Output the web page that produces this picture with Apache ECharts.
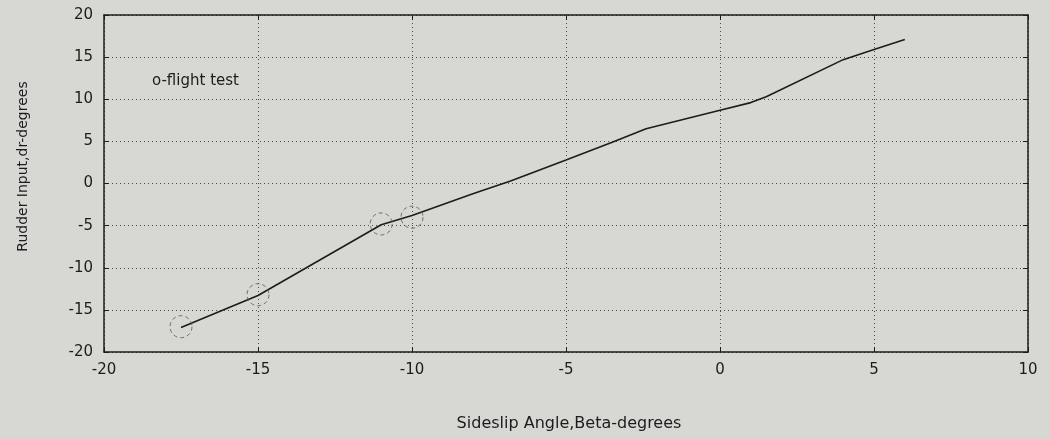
<!DOCTYPE html>
<html>
<head>
<meta charset="utf-8">
<title>Rudder Input vs Sideslip Angle</title>
<script src="https://cdn.jsdelivr.net/npm/echarts@6/dist/echarts.min.js"></script>
<style>
  html, body { margin: 0; padding: 0; background: #d7d7d4; }
  #chart { width: 1050px; height: 439px; }
</style>
</head>
<body>
<div id="chart"></div>
<script>
// Sideslip angle (deg) and rudder input (deg) along the fitted curve
const betaDeg   = [-17.5, -15.0, -11.0, -10.0, -8.0, -6.8, -5.0, -3.5, -2.4, 0.0, 1.0, 1.5, 4.0, 5.0, 6.0];
const rudderDeg = [-17.1, -13.3, -4.9, -3.8, -1.2, 0.3, 2.8, 4.9, 6.5, 8.7, 9.6, 10.3, 14.7, 15.9, 17.1];

// Flight test points (drawn as dashed open circles)
const testBeta   = [-17.5, -15.0, -11.0, -10.0];
const testRudder = [-17.0, -13.2, -4.8, -4.0];

// Axis ranges and tick spacing
const xRange = [-20, 10];
const yRange = [-20, 20];
const tickStep = 5;

const legendText = 'o-flight test';
const xTitle = 'Sideslip Angle,Beta-degrees';
const yTitle = 'Rudder Input,dr-degrees';

const FONT = '"DejaVu Sans", "Liberation Sans", Arial, sans-serif';
const FS = 15;
const INK = '#1c1c1c';

const curve = betaDeg.map((b, i) => [b, rudderDeg[i]]);
const tests = testBeta.map((b, i) => [b, testRudder[i]]);

const gridLine = { show: true, lineStyle: { color: '#4a4a4a', width: 1, type: [1, 3] } };
const inTicks = { show: true, inside: true, length: 5, lineStyle: { color: INK } };
const frame = { show: true, onZero: false, lineStyle: { color: INK, width: 1.5 } };

const chart = echarts.init(document.getElementById('chart'), null, { renderer: 'canvas' });
chart.setOption({
  backgroundColor: '#d7d7d4',
  animation: false,
  textStyle: { fontFamily: FONT },
  grid: { left: 104, right: 22, top: 15, bottom: 87, containLabel: false },
  xAxis: [{
    type: 'value', min: xRange[0], max: xRange[1], interval: tickStep,
    position: 'bottom',
    axisLine: frame, axisTick: inTicks, splitLine: gridLine,
    axisLabel: { color: INK, fontSize: FS, fontFamily: FONT, margin: 11 },
    name: xTitle, nameLocation: 'middle', nameGap: 64,
    nameTextStyle: { color: INK, fontSize: 16, fontFamily: FONT, padding: [0, 0, 0, 6] }
  }, {
    type: 'value', min: xRange[0], max: xRange[1], interval: tickStep,
    position: 'top',
    axisLine: frame, axisTick: inTicks, splitLine: { show: false },
    axisLabel: { show: false }
  }],
  yAxis: [{
    type: 'value', min: yRange[0], max: yRange[1], interval: tickStep,
    position: 'left',
    axisLine: frame, axisTick: inTicks, splitLine: gridLine,
    axisLabel: { color: INK, fontSize: FS, fontFamily: FONT, margin: 11 },
    name: yTitle, nameLocation: 'middle', nameGap: 74, nameRotate: 90,
    nameTextStyle: { color: INK, fontSize: 14, fontFamily: FONT, padding: [0, 0, 0, 34] }
  }, {
    type: 'value', min: yRange[0], max: yRange[1], interval: tickStep,
    position: 'right',
    axisLine: frame, axisTick: inTicks, splitLine: { show: false },
    axisLabel: { show: false }
  }],
  graphic: [{
    type: 'text', left: 152, top: 74,
    style: { text: legendText, fill: INK, font: FS + 'px ' + FONT }
  }],
  series: [{
    type: 'line',
    data: curve,
    showSymbol: false,
    smooth: false,
    lineStyle: { color: INK, width: 1.6 },
    z: 3
  }, {
    type: 'scatter',
    data: tests,
    symbol: 'circle',
    symbolSize: 22,
    itemStyle: { color: 'rgba(0,0,0,0)', borderColor: '#555', borderWidth: 1, borderType: [4, 3] },
    z: 4
  }]
});
</script>
</body>
</html>
